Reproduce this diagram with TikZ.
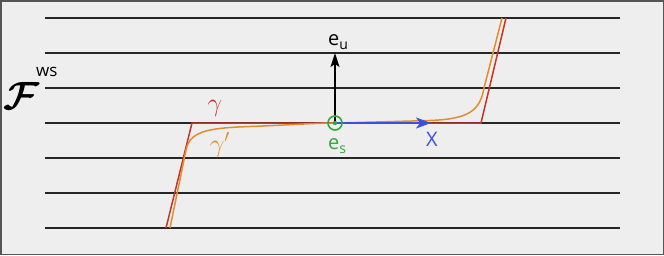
\documentclass[tikz,border=0pt]{standalone}
\usepackage{fontspec}
\usepackage{bm}
\setmainfont{Open Sans}
\usetikzlibrary{arrows.meta}
\definecolor{bgc}{HTML}{EEEEEE}
\definecolor{frame}{HTML}{555555}
\definecolor{cred}{RGB}{196,52,40}
\definecolor{corange}{RGB}{226,140,46}
\definecolor{cgreen}{RGB}{50,168,60}
\definecolor{cblue}{RGB}{60,80,220}
\tikzset{
  leaf/.style={line width=1.4pt, black!85},
  curvered/.style={line width=1.5pt, cred},
  curveorange/.style={line width=1.5pt, corange},
  lbl/.style={inner sep=0pt, font=\fontsize{20}{20}\selectfont},
}
\begin{document}
\begin{tikzpicture}[x=1pt,y=-1pt]
\fill[bgc] (0,0) rectangle (664,255);
\draw[frame, line width=1.5pt] (0.75,0.75) rectangle (663.25,254.25);
\useasboundingbox (0,0) rectangle (664,255);
% leaves
\foreach \yy in {18,53,88,123,158,193,228}
  \draw[leaf] (45,\yy) -- (620,\yy);
% named points
\coordinate (rA) at (166,228);
\coordinate (rB) at (192,123);
\coordinate (rC) at (481,123);
\coordinate (rD) at (506,18);
\coordinate (oA) at (170,228);
\coordinate (oB) at (186,150);
\coordinate (oE) at (484,88);
\coordinate (oF) at (502,18);
\coordinate (es) at (335,123);
\coordinate (eutip) at (335,53);
\coordinate (Xtip) at (431,123);
% gamma
\draw[curvered] (rA) -- (rB) -- (rC) -- (rD);
% gamma'
\draw[curveorange] (oA) -- (oB) .. controls (190,132) and (205,128) .. (250,126.5)
   .. controls (290,125) and (315,123) .. (es)
   .. controls (380,122) and (410,121) .. (430,120.5)
   .. controls (470,119) and (480,110) .. (oE) -- (oF);
% vectors
\draw[line width=1.4pt, black, -{Stealth[length=14pt,width=9pt,inset=3pt]}] (es) -- (eutip);
\draw[line width=1.6pt, cblue, -{Stealth[length=15pt,width=11pt,inset=4pt]}] (es) -- (Xtip);
\node[circle, draw=cgreen, line width=1.6pt, minimum size=14pt, inner sep=0pt] (esc) at (es) {};
\fill[cgreen] (es) circle (2.2pt);
% labels
\node[inner sep=0pt, scale=1.9] (Flbl) at (22,96) {\fontsize{20}{20}\selectfont$\bm{\mathcal{F}}$};
\node[inner sep=0pt, font=\fontsize{17}{17}\selectfont, anchor=base west] (wslbl) at (36,76) {ws};
\node[inner sep=0pt, text=cred, scale=1.5] (glbl) at (215,108) {\fontsize{17}{17}\selectfont$\gamma$};
\node[inner sep=0pt, text=corange, scale=1.5] (gplbl) at (220,145) {\fontsize{17}{17}\selectfont$\gamma'$};
\node[lbl, text=cgreen, anchor=base west] (eslbl) at (328,149) {e\raisebox{-4pt}{\fontsize{14}{14}\selectfont s}};
\node[lbl, anchor=base west] (eulbl) at (328,45) {e\raisebox{-4pt}{\fontsize{14}{14}\selectfont u}};
\node[lbl, text=cblue, anchor=base] (Xlbl) at (432,146) {X};
\end{tikzpicture}
\end{document}
